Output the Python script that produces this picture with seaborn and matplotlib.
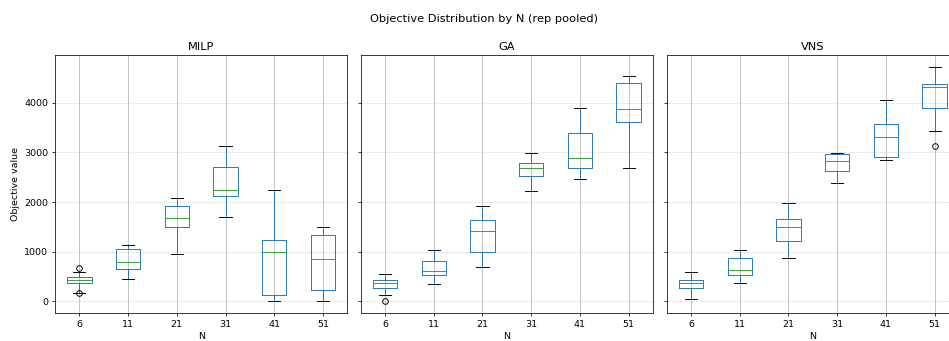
import matplotlib
matplotlib.use("Agg")
import matplotlib.pyplot as plt
import numpy as np
import pandas as pd
import seaborn as sns

N_VALUES = [6, 11, 21, 31, 41, 51]
METHODS = ["MILP", "GA", "VNS"]

# Five-number summaries (lower whisker, Q1, median, Q3, upper whisker) per N
milp_whislo = [175, 450, 955, 1700, 0, 0]
milp_q1 = [360, 660, 1500, 2125, 130, 230]
milp_med = [435, 795, 1680, 2240, 1000, 855]
milp_q3 = [485, 1060, 1915, 2705, 1240, 1330]
milp_whishi = [590, 1125, 2085, 3125, 2240, 1490]
milp_fliers = [[158, 680], [], [], [], [], []]

ga_whislo = [135, 345, 685, 2220, 2460, 2695]
ga_q1 = [270, 520, 985, 2520, 2695, 3620]
ga_med = [365, 610, 1410, 2690, 2890, 3880]
ga_q3 = [430, 815, 1640, 2785, 3390, 4400]
ga_whishi = [540, 1030, 1925, 2985, 3885, 4540]
ga_fliers = [[10], [], [], [], [], []]

vns_whislo = [50, 365, 865, 2380, 2850, 3440]
vns_q1 = [270, 530, 1215, 2620, 2905, 3900]
vns_med = [370, 625, 1490, 2830, 3315, 4315]
vns_q3 = [430, 865, 1660, 2965, 3570, 4370]
vns_whishi = [585, 1030, 1975, 2985, 4055, 4720]
vns_fliers = [[], [], [], [], [], [3120]]

SUMMARIES = {
    "MILP": (milp_whislo, milp_q1, milp_med, milp_q3, milp_whishi, milp_fliers),
    "GA": (ga_whislo, ga_q1, ga_med, ga_q3, ga_whishi, ga_fliers),
    "VNS": (vns_whislo, vns_q1, vns_med, vns_q3, vns_whishi, vns_fliers),
}


def pooled_sample(lo, q1, med, q3, hi, fliers):
    """Nine observations whose quartiles, whiskers and outliers are the given summary."""
    below = [f for f in fliers if f < lo]
    above = [f for f in fliers if f > hi]
    first = below[0] if below else lo
    last = above[0] if above else hi
    return [first, lo, q1, q1, med, q3, q3, hi, last]


rows = []
for method, (lo, q1, med, q3, hi, fl) in SUMMARIES.items():
    for i, n in enumerate(N_VALUES):
        for v in pooled_sample(lo[i], q1[i], med[i], q3[i], hi[i], fl[i]):
            rows.append({"method": method, "N": n, "objective": v})
df = pd.DataFrame(rows)

W, H, DPI = 949, 341, 68
fig = plt.figure(figsize=(W / DPI, H / DPI), dpi=DPI)

left_px = [55, 360.7, 666.7]
ax_w, top_px, bot_px = 292.3, 55.3, 313
axes = []
for k, lp in enumerate(left_px):
    rect = [lp / W, (H - bot_px) / H, ax_w / W, (bot_px - top_px) / H]
    ax = fig.add_axes(rect, sharey=axes[0] if axes else None)
    axes.append(ax)

for ax, method in zip(axes, METHODS):
    sub = df[df["method"] == method]
    sns.boxplot(
        data=sub, x="N", y="objective", order=N_VALUES, ax=ax,
        width=0.5, fill=False, color="#1f77b4", linewidth=1.0, whis=1.5,
        medianprops=dict(color="#2ca02c"),
        capprops=dict(color="black"),
        whiskerprops=dict(color="#1f77b4"),
        flierprops=dict(marker="o", markerfacecolor="none",
                        markeredgecolor="black", markersize=6),
    )
    ax.set_title(method)
    ax.set_xlabel("N")
    ax.set_ylabel("")
    ax.xaxis.grid(True, color="#b0b0b0", linewidth=0.8, linestyle="-")
    ax.yaxis.grid(True, color="#b0b0b0", linewidth=0.8, linestyle="--", alpha=0.45)
    ax.set_xlim(-0.5, len(N_VALUES) - 0.5)

axes[0].set_ylabel("Objective value")
for ax in axes[1:]:
    ax.tick_params(axis="y", labelleft=False)

fig.suptitle("Objective Distribution by N (rep pooled)", x=484.5 / W, y=1 - 19 / H,
             va="center")

fig.savefig("out.png", dpi=DPI)
